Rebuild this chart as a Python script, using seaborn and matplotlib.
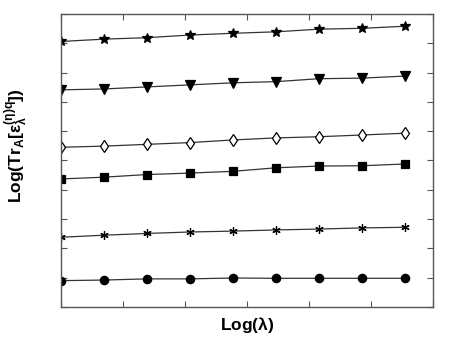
import matplotlib.pyplot as plt
import seaborn as sns
import pandas as pd

sns.set_style('ticks')
plt.rcParams['font.family'] = ['Liberation Sans', 'DejaVu Sans']
plt.rcParams['mathtext.fontset'] = 'custom'
plt.rcParams['mathtext.rm'] = 'Liberation Sans:bold'
plt.rcParams['mathtext.it'] = 'Liberation Sans:bold'
plt.rcParams['mathtext.bf'] = 'Liberation Sans:bold'
plt.rcParams['mathtext.default'] = 'bf'
plt.rcParams['text.color'] = 'black'
plt.rcParams['axes.labelcolor'] = 'black'

## log(lambda) with lambda = 1, 2, 4, ..., 256
log_lam = [0.0, 0.693, 1.386, 2.079, 2.773, 3.466, 4.159, 4.852, 5.545]

## curves (arbitrary units)
star = [9.06, 9.14, 9.19, 9.28, 9.34, 9.39, 9.48, 9.51, 9.58]
tri = [7.41, 7.44, 7.51, 7.58, 7.65, 7.69, 7.79, 7.81, 7.88]
diamond = [5.45, 5.49, 5.55, 5.61, 5.70, 5.77, 5.81, 5.87, 5.93]
square = [4.37, 4.43, 4.52, 4.57, 4.63, 4.75, 4.81, 4.82, 4.88]
plus = [2.38, 2.45, 2.51, 2.56, 2.59, 2.63, 2.66, 2.70, 2.72]
circle = [0.90, 0.92, 0.96, 0.96, 0.99, 0.98, 0.98, 0.98, 0.98]

series = {'star': star, 'tri': tri, 'diamond': diamond,
          'square': square, 'plus': plus, 'circle': circle}
df = pd.DataFrame([{'x': x, 'y': y, 'curve': name}
                   for name, vals in series.items()
                   for x, y in zip(log_lam, vals)])

styles = {
    'star': dict(marker='*', markersize=7, markerfacecolor='black'),
    'tri': dict(marker='v', markersize=7, markerfacecolor='black'),
    'diamond': dict(marker='d', markersize=6.5, markerfacecolor='white'),
    'square': dict(marker='s', markersize=5.5, markerfacecolor='black'),
    'plus': dict(marker=(6, 2, 0), markersize=6, markerfacecolor='black'),
    'circle': dict(marker='o', markersize=6, markerfacecolor='black'),
}

fig = plt.figure(figsize=(4.75, 3.4), dpi=100)
ax = fig.add_axes([0.128, 0.097, 0.784, 0.862])

for name, st in styles.items():
    sns.lineplot(data=df[df['curve'] == name], x='x', y='y', ax=ax,
                 color='#333333', linewidth=0.9, markeredgecolor='black',
                 markeredgewidth=0.9, **st)

ax.set_xlim(0, 6)
ax.set_ylim(0, 10)
ax.set_xticks(range(0, 7))
ax.set_yticks(range(0, 11))
ax.tick_params(direction='in', top=True, right=True, labelbottom=False,
               labelleft=False, length=4, color='#555555')
for s in ax.spines.values():
    s.set_color('#555555')
    s.set_linewidth(1)

ax.set_xlabel(r'Log($\lambda$)', fontsize=12.5, fontweight='bold', labelpad=6)
ax.set_ylabel(r'Log(Tr$_A[\epsilon_\lambda^{(\eta)q}]$)', fontsize=12.5,
              fontweight='bold', labelpad=10)
ax.yaxis.set_label_coords(-0.085, 0.55)

fig.savefig('out.png', dpi=100)
